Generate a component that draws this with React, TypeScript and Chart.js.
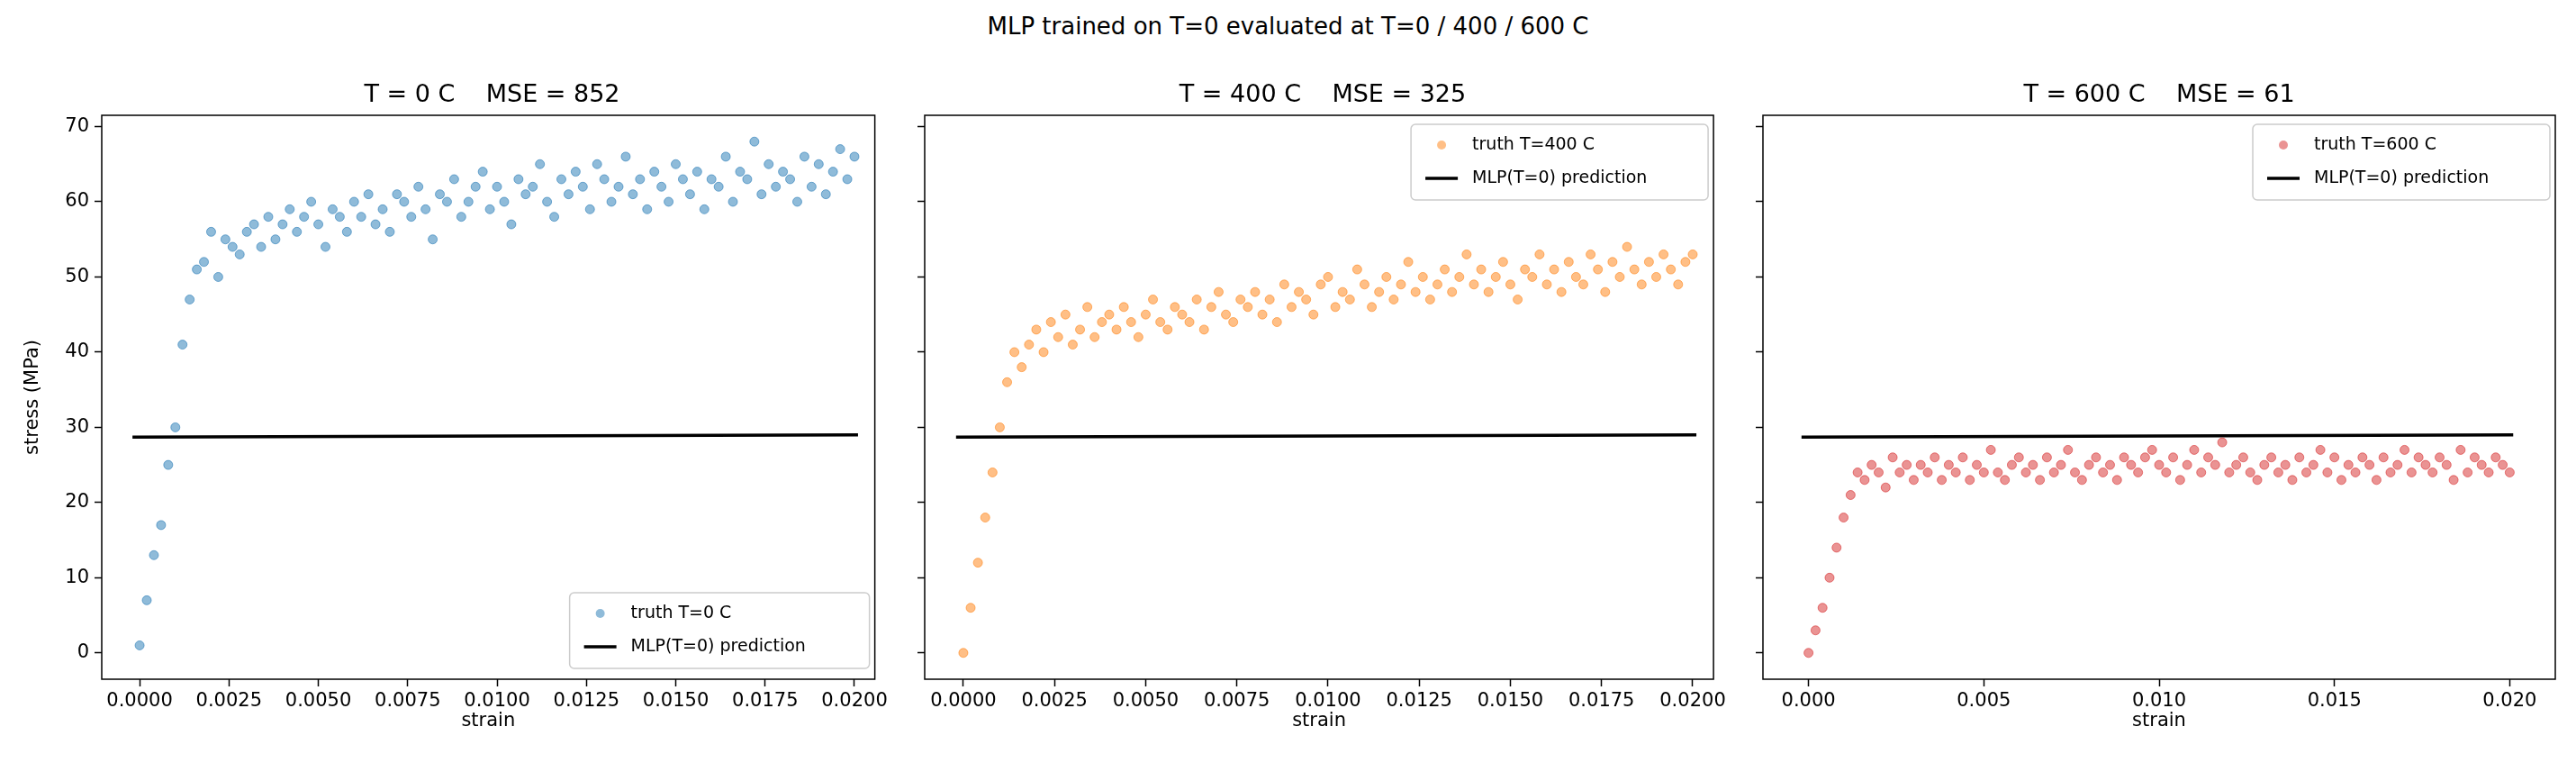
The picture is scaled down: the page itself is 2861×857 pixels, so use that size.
import React, { useEffect, useRef } from "react";
import { Chart, registerables } from "chart.js";
Chart.register(...registerables);

const strain = [0,0.0002,0.0004,0.0006,0.0008,0.001,0.0012,0.0014,0.0016,0.0018,0.002,0.0022,0.0024,0.0026,0.0028,0.003,0.0032,0.0034,0.0036,0.0038,0.004,0.0042,0.0044,0.0046,0.0048,0.005,0.0052,0.0054,0.0056,0.0058,0.006,0.0062,0.0064,0.0066,0.0068,0.007,0.0072,0.0074,0.0076,0.0078,0.008,0.0082,0.0084,0.0086,0.0088,0.009,0.0092,0.0094,0.0096,0.0098,0.01,0.0102,0.0104,0.0106,0.0108,0.011,0.0112,0.0114,0.0116,0.0118,0.012,0.0122,0.0124,0.0126,0.0128,0.013,0.0132,0.0134,0.0136,0.0138,0.014,0.0142,0.0144,0.0146,0.0148,0.015,0.0152,0.0154,0.0156,0.0158,0.016,0.0162,0.0164,0.0166,0.0168,0.017,0.0172,0.0174,0.0176,0.0178,0.018,0.0182,0.0184,0.0186,0.0188,0.019,0.0192,0.0194,0.0196,0.0198,0.02];

const stressT0 = [1,7,13,17,25,30,41,47,51,52,56,50,55,54,53,56,57,54,58,55,
57,59,56,58,60,57,54,59,58,56,60,58,61,57,59,56,61,60,58,62,
59,55,61,60,63,58,60,62,64,59,62,60,57,63,61,62,65,60,58,63,
61,64,62,59,65,63,60,62,66,61,63,59,64,62,60,65,63,61,64,59,
63,62,66,60,64,63,68,61,65,62,64,63,60,66,62,65,61,64,67,63,66];
const stressT400 = [0,6,12,18,24,30,36,40,38,41,43,40,44,42,45,41,43,46,42,44,
45,43,46,44,42,45,47,44,43,46,45,44,47,43,46,48,45,44,47,46,
48,45,47,44,49,46,48,47,45,49,50,46,48,47,51,49,46,48,50,47,
49,52,48,50,47,49,51,48,50,53,49,51,48,50,52,49,47,51,50,53,
49,51,48,52,50,49,53,51,48,52,50,54,51,49,52,50,53,51,49,52,53];
const stressT600 = [0,3,6,10,14,18,21,24,23,25,24,22,26,24,25,23,25,24,26,23,
25,24,26,23,25,24,27,24,23,25,26,24,25,23,26,24,25,27,24,23,
25,26,24,25,23,26,25,24,26,27,25,24,26,23,25,27,24,26,25,28,
24,25,26,24,23,25,26,24,25,23,26,24,25,27,24,26,23,25,24,26,
25,23,26,24,25,27,24,26,25,24,26,25,23,27,24,26,25,24,26,25,24];

const predX = [-0.0002, 0.0201];
const predY = [28.7, 29.0];

const FONT = "DejaVu Sans";

const framePlugin = {
  id: "frame",
  afterDraw(chart: any) {
    const { ctx, chartArea: a } = chart;
    const o = chart.options.plugins.frame;
    ctx.save();
    ctx.strokeStyle = "#000";
    ctx.lineWidth = 1.5;
    ctx.strokeRect(a.left, a.top, a.right - a.left, a.bottom - a.top);
    const w = o.w, h = 84;
    const x = a.right - w - 6;
    const y = o.pos === "bottom" ? a.bottom - h - 12 : a.top + 10;
    ctx.fillStyle = "rgba(255,255,255,0.8)";
    ctx.strokeStyle = "#ccc";
    ctx.lineWidth = 1.5;
    ctx.beginPath();
    ctx.roundRect(x, y, w, h, 5);
    ctx.fill();
    ctx.stroke();
    ctx.fillStyle = o.color;
    ctx.globalAlpha = 0.5;
    ctx.beginPath();
    ctx.arc(x + 34, y + 23, 5, 0, Math.PI * 2);
    ctx.fill();
    ctx.globalAlpha = 1;
    ctx.strokeStyle = "#000";
    ctx.lineWidth = 3.5;
    ctx.beginPath();
    ctx.moveTo(x + 16, y + 60);
    ctx.lineTo(x + 52, y + 60);
    ctx.stroke();
    ctx.fillStyle = "#000";
    ctx.font = `19px ${FONT}`;
    ctx.textBaseline = "middle";
    ctx.fillText(o.label, x + 68, y + 23);
    ctx.fillText("MLP(T=0) prediction", x + 68, y + 60);
    ctx.restore();
  },
};

function Panel(props: any) {
  const ref = useRef<HTMLCanvasElement>(null);
  useEffect(() => {
    const pts = strain.map((s, i) => ({ x: s, y: props.ys[i] }));
    const first = props.first;
    const chart = new Chart(ref.current!, {
      type: "scatter",
      data: {
        datasets: [
          { data: pts, backgroundColor: props.color + "80", borderColor: props.color + "90", pointRadius: 5, borderWidth: 1 } as any,
          { type: "line", data: predX.map((x, i) => ({ x, y: predY[i] })), borderColor: "#000", borderWidth: 3.5, pointRadius: 0 } as any,
        ],
      },
      plugins: [framePlugin],
      options: {
        animation: false,
        responsive: false,
        devicePixelRatio: 1,
        layout: { padding: { top: 58, right: 10, left: first ? 20 : 0, bottom: 40 } },
        plugins: { legend: { display: false }, tooltip: { enabled: false }, frame: { color: props.color, label: props.label, pos: props.pos, w: props.lw } } as any,
        scales: {
          x: {
            type: "linear", min: props.xmin, max: props.xmax,
            afterFit: (s: any) => { s.height = 63; },
            grid: { drawOnChartArea: false, tickLength: 8, color: "#000", tickWidth: 1.5 },
            border: { display: false },
            ticks: { stepSize: props.step, includeBounds: false, color: "#000", font: { family: FONT, size: 21 }, padding: 4, maxRotation: 0, autoSkip: false,
              callback: (v: any) => Number(v).toFixed(props.dec) },
            title: { display: true, text: "strain", color: "#000", font: { family: FONT, size: 21 }, padding: { top: 2 } },
          },
          y: {
            type: "linear", min: -3.5, max: 71.5,
            afterFit: (s: any) => { s.width = first ? 93 : 10; },
            grid: { drawOnChartArea: false, tickLength: 8, color: "#000", tickWidth: 1.5 },
            border: { display: false },
            ticks: { stepSize: 10, includeBounds: false, display: first, color: "#000", font: { family: FONT, size: 21 }, padding: 6 },
            title: { display: first, text: "stress (MPa)", color: "#000", font: { family: FONT, size: 21 }, padding: { bottom: 4 } },
          },
        },
      } as any,
    });
    return () => chart.destroy();
  }, []);
  return (
    <div style={{ position: "absolute", left: props.left, top: 70 }}>
      <canvas ref={ref} width={props.width} height={787} style={{ display: "block" }} />
      <div style={{ position: "absolute", top: 18, left: props.first ? 113 : 10, width: props.width - (props.first ? 123 : 20), textAlign: "center", fontFamily: FONT, fontSize: 27, whiteSpace: "pre" }}>{props.title}</div>
    </div>
  );
}

export default function App() {
  return (
    <div style={{ position: "absolute", left: 0, top: 0, width: 2861, height: 857, background: "#fff" }}>
      <div style={{ position: "absolute", top: 14, width: 2861, textAlign: "center", fontFamily: FONT, fontSize: 26 }}>MLP trained on T=0 evaluated at T=0 / 400 / 600 C</div>
      <Panel first left={0} width={990} ys={stressT0} color="#1f77b4" label="truth T=0 C" pos="bottom" lw={333} xmin={-0.00106} xmax={0.02057} step={0.0025} dec={4} title={"T = 0 C    MSE = 852"} />
      <Panel left={1017} width={904} ys={stressT400} color="#ff7f0e" label="truth T=400 C" pos="top" lw={330} xmin={-0.00106} xmax={0.02057} step={0.0025} dec={4} title={"T = 400 C    MSE = 325"} />
      <Panel left={1948} width={900} ys={stressT600} color="#d62728" label="truth T=600 C" pos="top" lw={330} xmin={-0.0013} xmax={0.0213} step={0.005} dec={3} title={"T = 600 C    MSE = 61"} />
    </div>
  );
}
